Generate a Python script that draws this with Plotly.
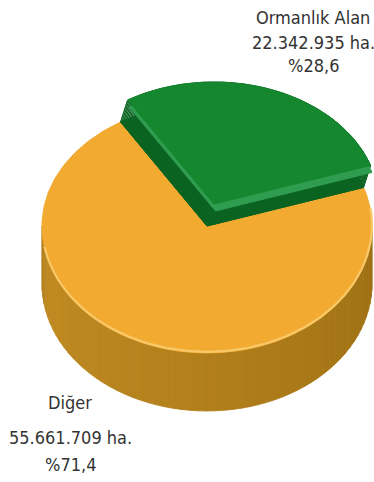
import numpy as np
import plotly.graph_objects as go

# ---- data -------------------------------------------------------------
categories = ["Ormanlık Alan", "Diğer"]
areas_ha = [22342935, 55661709]
top_colors = ["#14872F", "#F2AA31"]

# ---- geometry of the tilted disc (screen units, y grows downward) -----
CX, CY = 207.0, 226.0          # centre of the top face
RX, RY_BACK, RY_FRONT = 165.0, 122.0, 127.0
DEPTH = 58.0                   # visible height of the cylinder wall
LIFT = (7.0, -22.0)            # offset of the raised slice
BEVEL = (1.5, 7.0)             # light edge on the raised slice
MID_ANGLE = 70.0               # direction in which the raised slice points

total = float(sum(areas_ha))
shares = [a / total for a in areas_ha]
span0 = 360.0 * shares[0]
g_start = MID_ANGLE - span0 / 2.0
g_end = MID_ANGLE + span0 / 2.0


def ell(t_deg, cx=CX, cy=CY):
    t = np.radians(np.asarray(t_deg, dtype=float))
    s = np.sin(t)
    ry = np.where(s >= 0, RY_BACK, RY_FRONT)
    return cx + RX * np.cos(t), cy - ry * s


def sector(a0, a1, cx=CX, cy=CY, n=160):
    ts = np.linspace(a0, a1, n)
    x, y = ell(ts, cx, cy)
    return np.concatenate([[cx], x, [cx]]), np.concatenate([[cy], y, [cy]])


def hexrgb(h):
    h = h.lstrip("#")
    return np.array([int(h[i:i + 2], 16) for i in (0, 2, 4)], dtype=float)


def rgb(c):
    c = np.clip(c, 0, 255).round().astype(int)
    return f"rgb({c[0]},{c[1]},{c[2]})"


fig = go.Figure()


def poly(x, y, color, lw=1.0):
    fig.add_trace(go.Scatter(
        x=list(x), y=list(y), mode="lines", fill="toself",
        fillcolor=color, line=dict(color=color, width=lw),
        hoverinfo="skip", showlegend=False))


# ---- cylinder wall of the large slice (front half), shaded in strips ----
wall_light, wall_dark = hexrgb("#C48D23"), hexrgb("#9E7013")
edges = np.linspace(180.0, 360.0, 61)
for a, b in zip(edges[:-1], edges[1:]):
    ts = np.linspace(a, b, 4)
    xt, yt = ell(ts)
    xb, yb = xt, yt + DEPTH
    s = ((a + b) / 2 - 180.0) / 180.0
    c = wall_light + (wall_dark - wall_light) * s
    c = c * (1.0 - 0.10 * np.exp(-(s / 0.06) ** 2))
    poly(np.concatenate([xt, xb[::-1], xt[:1]]),
         np.concatenate([yt, yb[::-1], yt[:1]]), rgb(c), lw=0.8)

# ---- top face of the large slice ----
ox, oy = sector(g_end, g_start + 360.0, n=260)
poly(ox, oy, top_colors[1])

# light rim along the front edge of the top face
rx_, ry_ = ell(np.linspace(190.0, 368.0, 200))
fig.add_trace(go.Scatter(x=rx_, y=ry_ - 1.2, mode="lines",
                         line=dict(color="#F9C868", width=2.2),
                         hoverinfo="skip", showlegend=False))

# ---- raised slice ----
bx, by = sector(g_start, g_end)
tcx, tcy = CX + LIFT[0], CY + LIFT[1]
tx, ty = sector(g_start, g_end, tcx, tcy)

# dark sides: base outline plus quads joining base and top along each edge
side_col = "#0A6321"
poly(bx, by, side_col)
qx, qy = [], []
for i in range(len(bx) - 1):
    qx += [bx[i], bx[i + 1], tx[i + 1], tx[i], bx[i], None]
    qy += [by[i], by[i + 1], ty[i + 1], ty[i], by[i], None]
fig.add_trace(go.Scatter(x=qx, y=qy, mode="lines", fill="toself",
                         fillcolor=side_col, line=dict(color=side_col, width=1),
                         hoverinfo="skip", showlegend=False))

# light bevel just under the top face
poly(tx + BEVEL[0], ty + BEVEL[1], "#2F9C4F")
poly(tx, ty, top_colors[0])

# ---- labels ----
def ha(v):
    return f"{v:,}".replace(",", ".") + " ha."


def pct(s):
    return "%" + f"{s * 100:.1f}".replace(".", ",")


label_blocks = [
    ([categories[0], ha(areas_ha[0]), pct(shares[0])], 313, [17, 42, 65]),
    ([categories[1], ha(areas_ha[1]), pct(shares[1])], 70, [402, 437, 464]),
]
for lines, lx, ys in label_blocks:
    for txt, ly in zip(lines, ys):
        fig.add_annotation(x=lx, y=ly, text=txt, showarrow=False,
                           xanchor="center", yanchor="middle",
                           font=dict(family="Liberation Sans Narrow, DejaVu Sans Condensed, sans-serif",
                                     size=18, color="#333333"))

fig.update_layout(
    width=374, height=482,
    margin=dict(l=0, r=0, t=0, b=0),
    paper_bgcolor="white", plot_bgcolor="white",
    xaxis=dict(range=[0, 374], visible=False, fixedrange=True),
    yaxis=dict(range=[482, 0], visible=False, fixedrange=True),
    showlegend=False,
)

fig.write_html("out.html")
